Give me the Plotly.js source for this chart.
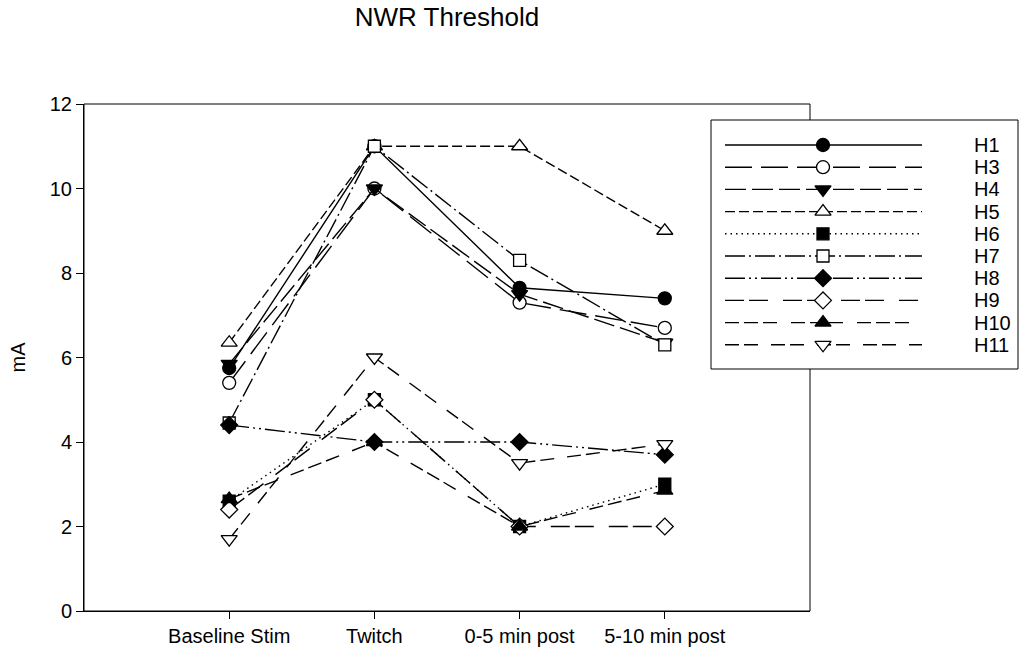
<!DOCTYPE html>
<html>
<head>
<meta charset="utf-8">
<script src="https://cdn.plot.ly/plotly-3.0.1.min.js"></script>
<style>html,body{margin:0;padding:0;background:#fff;}#chart{width:1026px;height:654px;}</style>
</head>
<body>
<div id="chart"></div>
<script>
// ---- data ----
const categories = ['Baseline Stim', 'Twitch', '0-5 min post', '5-10 min post'];
const seriesNames = ['H1', 'H3', 'H4', 'H5', 'H6', 'H7', 'H8', 'H9', 'H10', 'H11'];
const H1  = [5.75, 11, 7.65, 7.4];
const H3  = [5.4, 10, 7.3, 6.7];
const H4  = [5.85, 10, 7.5, 6.35];
const H5  = [6.35, 11, 11, 9];
const H6  = [2.6, 5, 2, 3];
const H7  = [4.45, 11, 8.3, 6.3];
const H8  = [4.4, 4, 4, 3.7];
const H9  = [2.4, 5, 2, 2];
const H10 = [2.65, 4, 2, 2.85];
const H11 = [1.7, 6, 3.5, 3.95];
const yTicks = [0, 2, 4, 6, 8, 10, 12];

const seriesValues = [H1, H3, H4, H5, H6, H7, H8, H9, H10, H11];

// ---- styles ----
const styles = [
  {dash: 'solid',                              symbol: 'circle',        fill: 'black'},
  {dash: '27px,9px',                           symbol: 'circle',        fill: 'white'},
  {dash: '21px,6px',                           symbol: 'triangle-down', fill: 'black'},
  {dash: '10px,4px',                           symbol: 'triangle-up',   fill: 'white'},
  {dash: '1.5px,4px',                          symbol: 'square',        fill: 'black'},
  {dash: '20px,4px,2px,4px',                   symbol: 'square',        fill: 'white'},
  {dash: '20px,4px,2px,4px,2px,4px',           symbol: 'diamond',       fill: 'black'},
  {dash: '19px,5px,19px,15px',                 symbol: 'diamond',       fill: 'white'},
  {dash: '14px,5px,14px,5px,14px,14px',        symbol: 'triangle-up',   fill: 'black'},
  {dash: '14px,5px,14px,13px',                 symbol: 'triangle-down', fill: 'white'}
];
const sizes = {'circle': 13, 'square': 12, 'diamond': 13, 'triangle-up': 14, 'triangle-down': 14};

// ---- geometry (pixels) ----
const W = 1026, Hh = 654;
const mL = 84, mR = 6, mT = 104, mB = 43;
const paperW = W - mL - mR, paperH = Hh - mT - mB;
const plotRight = 810;
const xDomEnd = (plotRight - mL) / paperW;
const box = {x0: 711, x1: 1018, y0: 120, y1: 369};
const legRow0 = 145, legRowH = 22.2;
const legLineX = [725, 823, 922], legTextX = 972;

const px2paperX = p => (p - mL) / paperW;
const px2paperY = p => (Hh - mB - p) / paperH;

const FONT = 'Liberation Sans, Arial, sans-serif';

const traces = [];
seriesValues.forEach((vals, i) => {
  const st = styles[i];
  traces.push({
    x: categories, y: vals, name: seriesNames[i],
    type: 'scatter', mode: 'lines+markers', showlegend: false,
    line: {color: 'black', width: 1.4, dash: st.dash},
    marker: {symbol: st.symbol, size: sizes[st.symbol], color: st.fill,
             line: {color: 'black', width: 1.3}},
    cliponaxis: false, hoverinfo: 'skip'
  });
});

// custom legend samples on an overlay axis
const annotations = [];
seriesNames.forEach((nm, i) => {
  const st = styles[i];
  traces.push({
    x: legLineX, y: [i, i, i], xaxis: 'x2', yaxis: 'y2',
    type: 'scatter', mode: 'lines+markers', showlegend: false, hoverinfo: 'skip',
    line: {color: 'black', width: 1.4, dash: st.dash},
    marker: {symbol: st.symbol, size: sizes[st.symbol], color: st.fill,
             opacity: [0, 1, 0], line: {color: 'black', width: 1.3}},
    cliponaxis: false
  });
  annotations.push({
    x: legTextX, y: i, xref: 'x2', yref: 'y2', text: nm, showarrow: false,
    xanchor: 'left', yanchor: 'middle', font: {family: FONT, size: 20, color: 'black'}
  });
});

const layout = {
  width: W, height: Hh,
  margin: {l: mL, r: mR, t: mT, b: mB, pad: 0},
  paper_bgcolor: 'white', plot_bgcolor: 'rgba(0,0,0,0)',
  font: {family: FONT, color: 'black', size: 20},
  title: {text: 'NWR Threshold', font: {family: FONT, size: 26, color: 'black'},
          xref: 'paper', x: xDomEnd / 2, xanchor: 'center',
          yref: 'container', y: 1 - 17 / Hh, yanchor: 'middle'},
  showlegend: false,
  xaxis: {domain: [0, xDomEnd], type: 'category', range: [-1, 4],
          showline: true, linecolor: 'black', linewidth: 1, mirror: false,
          ticks: 'outside', ticklen: 7, tickwidth: 1, tickcolor: 'black',
          showgrid: false, zeroline: false, fixedrange: true,
          tickfont: {family: FONT, size: 20, color: 'black'}},
  yaxis: {range: [0, 12], tickvals: yTicks, ticktext: yTicks.map(String),
          showline: true, linecolor: 'black', linewidth: 1, mirror: false,
          ticks: 'outside', ticklen: 7, tickwidth: 1, tickcolor: 'black',
          showgrid: false, zeroline: false, fixedrange: true,
          tickfont: {family: FONT, size: 20, color: 'black'},
          title: {text: 'mA', font: {family: FONT, size: 20, color: 'black'}, standoff: 18}},
  xaxis2: {domain: [px2paperX(box.x0), px2paperX(box.x1)], range: [box.x0, box.x1],
           anchor: 'y2', visible: false, fixedrange: true},
  yaxis2: {domain: [px2paperY(box.y1), px2paperY(box.y0)],
           range: [(box.y1 - legRow0) / legRowH, -(legRow0 - box.y0) / legRowH],
           anchor: 'x2', visible: false, fixedrange: true},
  shapes: [
    {type: 'rect', xref: 'paper', yref: 'paper', x0: 0, x1: xDomEnd, y0: 0, y1: 1,
     line: {color: 'black', width: 1}, fillcolor: 'rgba(0,0,0,0)', layer: 'below'},
    {type: 'rect', xref: 'paper', yref: 'paper',
     x0: px2paperX(box.x0), x1: px2paperX(box.x1), y0: px2paperY(box.y1), y1: px2paperY(box.y0),
     line: {color: 'black', width: 1}, fillcolor: 'white', layer: 'below'}
  ],
  annotations: annotations
};

Plotly.newPlot('chart', traces, layout, {staticPlot: true, displayModeBar: false});
</script>
</body>
</html>
